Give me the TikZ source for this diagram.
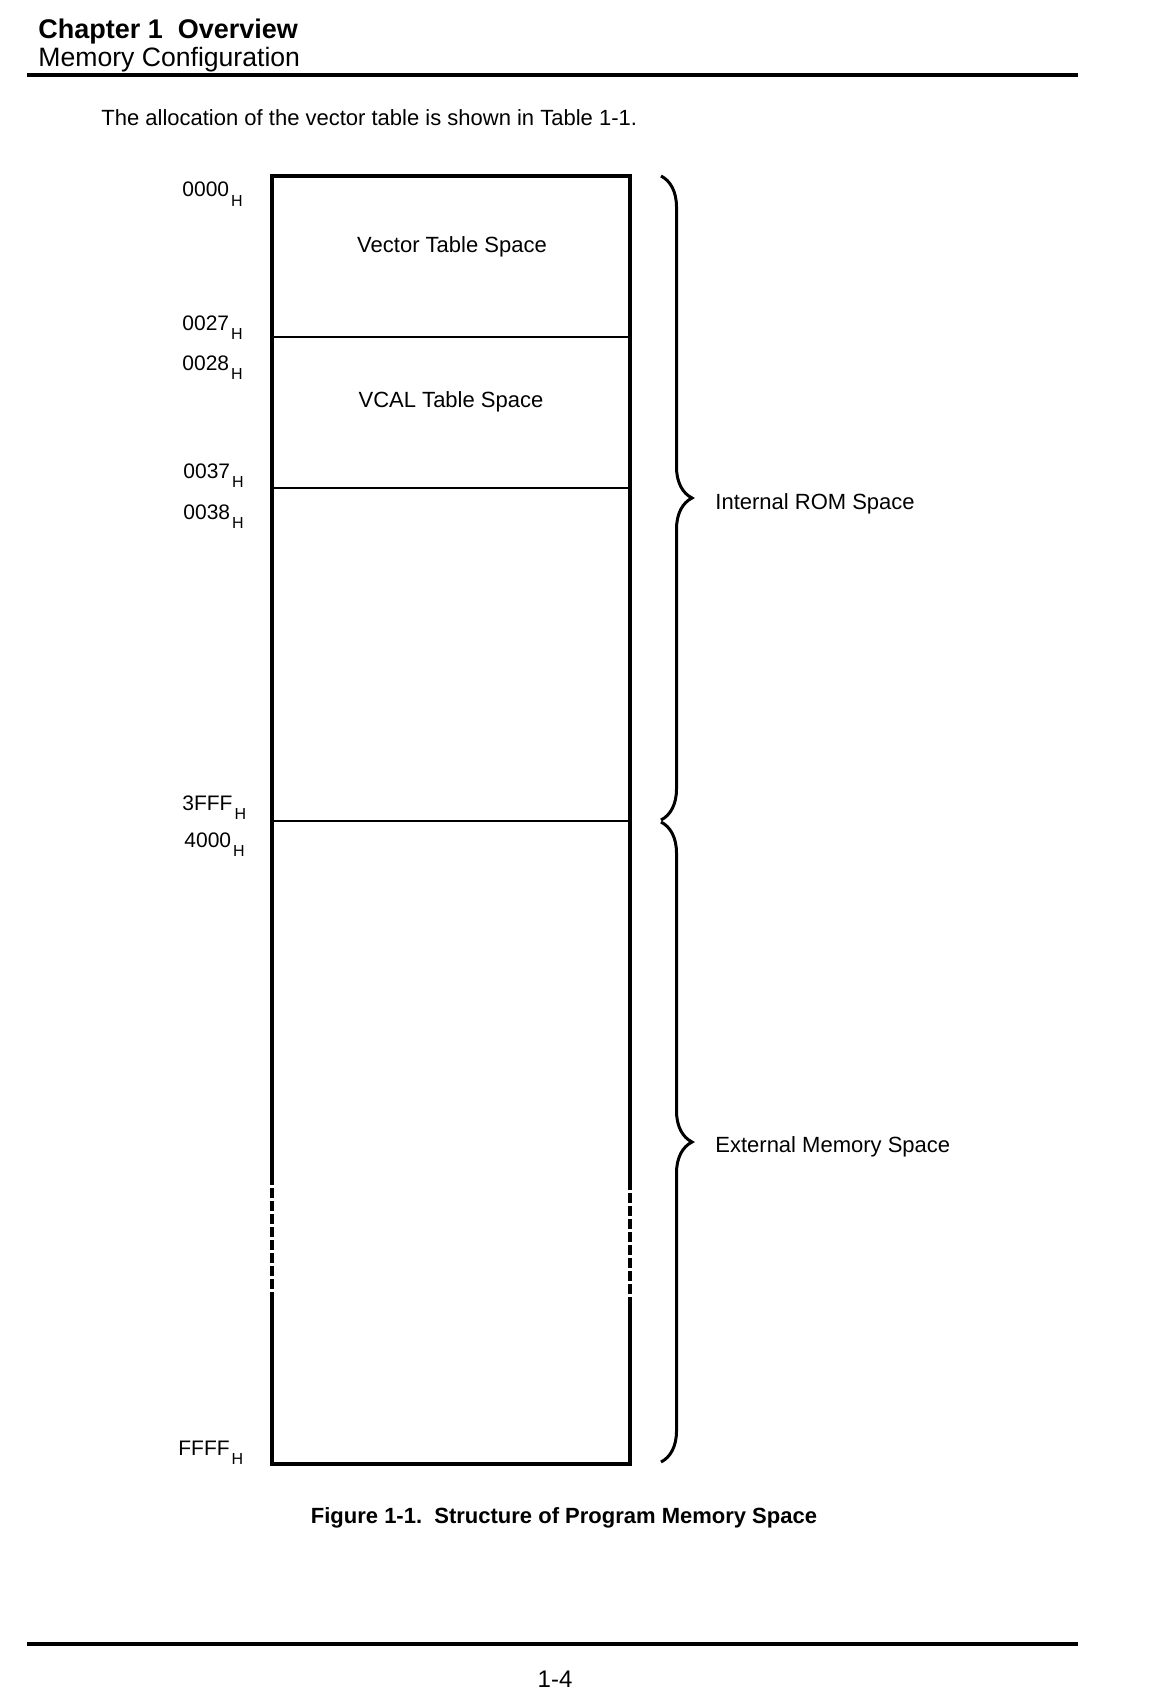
\documentclass[tikz,border=0pt]{standalone}
\usepackage{fontspec}
\setmainfont{Liberation Sans}
\usetikzlibrary{decorations.pathreplacing}
\newcommand\addrH[1]{#1\kern1pt\raisebox{-4.8pt}{\fontsize{8}{8}\selectfont H}}
\tikzset{
  addr/.style={anchor=base west, inner sep=0pt, font=\fontsize{10.5}{12}\selectfont},
  body/.style={inner sep=0pt, font=\fontsize{11}{13}\selectfont},
  boxline/.style={line width=1.6pt},
  sepline/.style={line width=1.3pt},
  rule/.style={line width=2pt},
  bracestyle/.style={line width=1.5pt, decorate, decoration={brace, amplitude=15.5pt}},
  dashside/.style={line width=1.6pt, dash pattern=on 5pt off 1.5pt}
}
\begin{document}
\begin{tikzpicture}[x=0.5pt,y=-0.5pt]
\useasboundingbox (0,0) rectangle (1156,1696);
\fill[white] (0,0) rectangle (1156,1696);

% header
\node[anchor=base west, inner sep=0pt, font=\fontsize{13.5}{15}\selectfont\bfseries] (chap) at (38,39) {Chapter 1\ \ Overview};
\node[anchor=base west, inner sep=0pt, font=\fontsize{13.3}{15}\selectfont] (sect) at (38,67) {Memory Configuration};
\coordinate (r1a) at (27,75);
\coordinate (r1b) at (1078,75);
\draw[rule] (r1a) -- (r1b);

\node[body, anchor=base west] (intro) at (101,126) {The allocation of the vector table is shown in Table 1-1.};

% memory map box
\coordinate (tl) at (272,176);
\coordinate (tr) at (630,176);
\coordinate (bl) at (272,1464);
\coordinate (br) at (630,1464);
\coordinate (l1) at (272,337);  \coordinate (r1) at (630,337);
\coordinate (l2) at (272,488);  \coordinate (r2) at (630,488);
\coordinate (l3) at (272,821);  \coordinate (r3) at (630,821);
\coordinate (ld1) at (272,1175); \coordinate (ld2) at (272,1297);
\coordinate (rd1) at (630,1180); \coordinate (rd2) at (630,1300);

\draw[boxline] (ld1) -- (tl) -- (tr) -- (rd1);
\draw[boxline] (ld2) -- (bl) -- (br) -- (rd2);
\draw[dashside] (ld1) -- (ld2);
\draw[dashside] (rd1) -- (rd2);
\draw[sepline] (l1) -- (r1);
\draw[sepline] (l2) -- (r2);
\draw[sepline] (l3) -- (r3);

\node[body, anchor=base] (vts) at (452,252) {Vector Table Space};
\node[body, anchor=base] (vcal) at (451,407) {VCAL Table Space};

% addresses
\node[addr] (a0000) at (182,197) {\addrH{0000}};
\node[addr] (a0027) at (182,330) {\addrH{0027}};
\node[addr] (a0028) at (182,370) {\addrH{0028}};
\node[addr] (a0037) at (183,478) {\addrH{0037}};
\node[addr] (a0038) at (183,519) {\addrH{0038}};
\node[addr] (a3fff) at (182,810) {\addrH{3FFF}};
\node[addr] (a4000) at (184,847) {\addrH{4000}};
\node[addr] (affff) at (178,1455) {\addrH{FFFF}};

% braces
\coordinate (b1t) at (661,176);
\coordinate (b1b) at (661,820);
\coordinate (b2t) at (661,822);
\coordinate (b2b) at (661,1462);
\draw[bracestyle] (b1t) -- (b1b);
\draw[bracestyle] (b2t) -- (b2b);

\node[body, anchor=base west] (irom) at (715,509) {Internal ROM Space};
\node[body, anchor=base west] (ext) at (715,1152) {External Memory Space};

% caption
\node[body, anchor=base, font=\fontsize{11}{13}\selectfont\bfseries] (cap) at (564,1523) {Figure 1-1.\ \ Structure of Program Memory Space};

% footer
\coordinate (r2a) at (27,1644);
\coordinate (r2b) at (1078,1644);
\draw[line width=2.2pt] (r2a) -- (r2b);
\node[anchor=base, inner sep=0pt, font=\fontsize{12}{14}\selectfont] (page) at (555,1687) {1-4};
\end{tikzpicture}
\end{document}
